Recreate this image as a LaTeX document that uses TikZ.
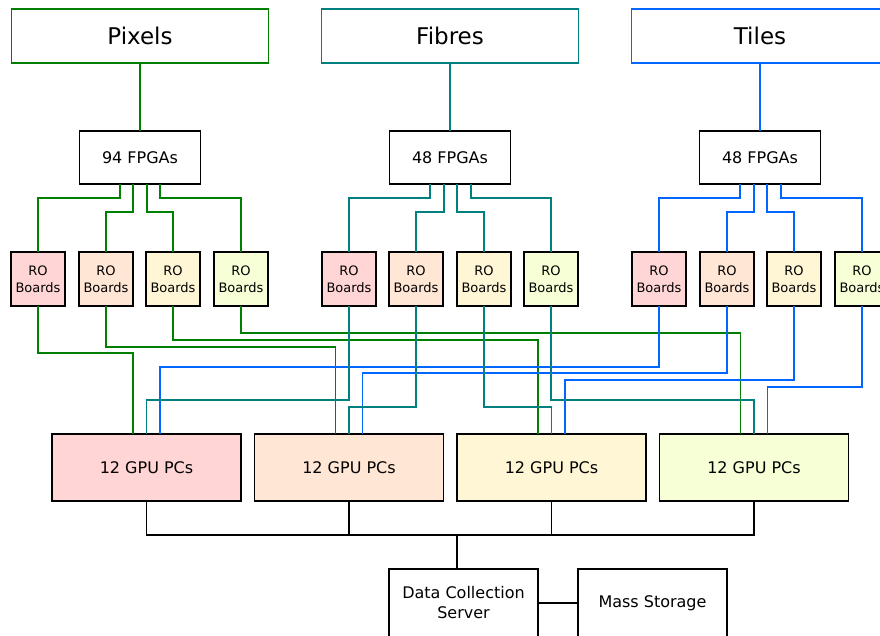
\documentclass[tikz,border=0pt]{standalone}
\usepackage{fontspec}
\setmainfont{DejaVu Sans}
\usepackage{xcolor}
\usepackage{tikz}
\usetikzlibrary{positioning, calc}

\definecolor{pixgreen}{HTML}{008000}
\definecolor{fibteal}{HTML}{008080}
\definecolor{tileblue}{HTML}{0066FF}
\definecolor{fillpink}{HTML}{FFD5D5}
\definecolor{fillpeach}{HTML}{FFE6D5}
\definecolor{fillcream}{HTML}{FFF6D5}
\definecolor{filllime}{HTML}{F6FFD5}

\begin{document}
\begin{tikzpicture}[x=1pt, y=-1pt, line width=1.8pt, outer sep=0pt]
    % Styles
    \tikzstyle{det} = [rectangle, draw, fill=white, minimum width=257pt, minimum height=54pt, font=\fontsize{23}{27}\selectfont]
    \tikzstyle{fpga} = [rectangle, draw=black, fill=white, minimum width=121pt, minimum height=53pt, font=\fontsize{16}{19}\selectfont]
    \tikzstyle{ro} = [rectangle, draw=black, minimum width=54pt, minimum height=54pt, inner sep=0pt, align=center, font=\fontsize{13}{17}\selectfont]
    \tikzstyle{gpu} = [rectangle, draw=black, minimum width=189pt, minimum height=67pt, font=\fontsize{16}{19}\selectfont]
    \tikzstyle{srv} = [rectangle, draw=black, fill=white, minimum width=149pt, minimum height=68pt, align=center, font=\fontsize{16}{20}\selectfont]
    \tikzstyle{pixline} = [draw, pixgreen]
    \tikzstyle{fibline} = [draw, fibteal]
    \tikzstyle{tileline} = [draw, tileblue]

    \useasboundingbox (0,0) rectangle (880,635);

    % --- DETECTORS ---
    \node [det, draw=pixgreen] (pix) at (140,36) {Pixels};
    \node [det, draw=fibteal] (fib) at (450,36) {Fibres};
    \node [det, draw=tileblue] (til) at (760,36) {Tiles};

    % --- FPGAs ---
    \node [fpga, below=68pt of pix] (pxfpga) {94 FPGAs};
    \node [fpga, below=68pt of fib] (fbfpga) {48 FPGAs};
    \node [fpga, below=68pt of til] (tlfpga) {48 FPGAs};

    % --- RO BOARDS ---
    \node [ro, fill=fillpink] (px1) at (38,279) {RO\\Boards};
    \node [ro, fill=fillpeach] (px2) at (106,279) {RO\\Boards};
    \node [ro, fill=fillcream] (px3) at (173,279) {RO\\Boards};
    \node [ro, fill=filllime] (px4) at (241,279) {RO\\Boards};
    \node [ro, fill=fillpink] (fb1) at (349,279) {RO\\Boards};
    \node [ro, fill=fillpeach] (fb2) at (416,279) {RO\\Boards};
    \node [ro, fill=fillcream] (fb3) at (484,279) {RO\\Boards};
    \node [ro, fill=filllime] (fb4) at (551,279) {RO\\Boards};
    \node [ro, fill=fillpink] (tl1) at (659,279) {RO\\Boards};
    \node [ro, fill=fillpeach] (tl2) at (727,279) {RO\\Boards};
    \node [ro, fill=fillcream] (tl3) at (794,279) {RO\\Boards};
    \node [ro, fill=filllime] (tl4) at (862,279) {RO\\Boards};

    % --- GPU FARM ---
    \node [gpu, fill=fillpink] (gpu1) at (146.5,467.5) {12 GPU PCs};
    \node [gpu, fill=fillpeach] (gpu2) at (349,467.5) {12 GPU PCs};
    \node [gpu, fill=fillcream] (gpu3) at (551.5,467.5) {12 GPU PCs};
    \node [gpu, fill=filllime] (gpu4) at (754,467.5) {12 GPU PCs};

    % --- STORAGE ---
    \node [srv] (dcs) at (463.5,603) {Data Collection\\Server};
    \node [srv] (mass) at (652.5,603) {Mass Storage};
    \coordinate (bus) at (457,535);

    % --- DETECTOR TO FPGA ---
    \path [pixline] (pix) -- (pxfpga);
    \path [fibline] (fib) -- (fbfpga);
    \path [tileline] (til) -- (tlfpga);

    % --- FPGA TO RO BOARDS ---
    \path [pixline] ([xshift=-20pt]pxfpga.south) -- ++(0,14) -| (px1.north);
    \path [pixline] ([xshift=-7pt]pxfpga.south) -- ++(0,28) -| (px2.north);
    \path [pixline] ([xshift=7pt]pxfpga.south) -- ++(0,28) -| (px3.north);
    \path [pixline] ([xshift=20pt]pxfpga.south) -- ++(0,14) -| (px4.north);
    \path [fibline] ([xshift=-20pt]fbfpga.south) -- ++(0,14) -| (fb1.north);
    \path [fibline] ([xshift=-6pt]fbfpga.south) -- ++(0,28) -| (fb2.north);
    \path [fibline] ([xshift=7pt]fbfpga.south) -- ++(0,28) -| (fb3.north);
    \path [fibline] ([xshift=21pt]fbfpga.south) -- ++(0,14) -| (fb4.north);
    \path [tileline] ([xshift=-20pt]tlfpga.south) -- ++(0,14) -| (tl1.north);
    \path [tileline] ([xshift=-6pt]tlfpga.south) -- ++(0,28) -| (tl2.north);
    \path [tileline] ([xshift=7pt]tlfpga.south) -- ++(0,28) -| (tl3.north);
    \path [tileline] ([xshift=21pt]tlfpga.south) -- ++(0,14) -| (tl4.north);

    % --- RO BOARDS TO GPU PCs ---
    \path [pixline] (px1.south) -- ++(0,47) -| ([xshift=-13.5pt]gpu1.north);
    \path [pixline] (px2.south) -- ++(0,41) -| ([xshift=-13.5pt]gpu2.north);
    \path [pixline] (px3.south) -- ++(0,34) -| ([xshift=-13.5pt]gpu3.north);
    \path [pixline] (px4.south) -- ++(0,27) -| ([xshift=-13.5pt]gpu4.north);
    \path [tileline] (tl1.south) -- ++(0,61) -| ([xshift=13.5pt]gpu1.north);
    \path [tileline] (tl2.south) -- ++(0,67) -| ([xshift=13.5pt]gpu2.north);
    \path [tileline] (tl3.south) -- ++(0,74) -| ([xshift=13.5pt]gpu3.north);
    \path [tileline] (tl4.south) -- ++(0,81) -| ([xshift=13.5pt]gpu4.north);
    \path [fibline] (fb1.south) -- ++(0,94) -| (gpu1.north);
    \path [fibline] (fb2.south) -- ++(0,101) -| (gpu2.north);
    \path [fibline] (fb3.south) -- ++(0,101) -| (gpu3.north);
    \path [fibline] (fb4.south) -- ++(0,94) -| (gpu4.north);

    % --- GPU PCs TO STORAGE ---
    \draw (gpu1.south) |- (bus) -| (gpu4.south);
    \draw (gpu2.south) -- (gpu2.south |- bus);
    \draw (gpu3.south) -- (gpu3.south |- bus);
    \draw (bus) -- (bus |- dcs.north);
    \draw (dcs) -- (mass);

\end{tikzpicture}
\end{document}
